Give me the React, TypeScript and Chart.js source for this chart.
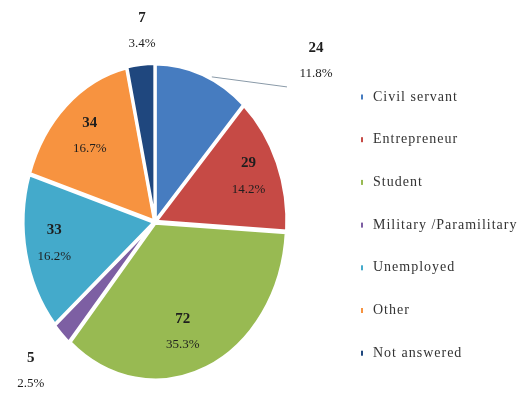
import React, { useEffect, useRef } from "react";
import { Chart, registerables } from "chart.js";

Chart.register(...registerables);

const categories = [
  "Civil servant",
  "Entrepreneur",
  "Student",
  "Military /Paramilitary",
  "Unemployed",
  "Other",
  "Not answered",
];
const counts = [24, 29, 72, 5, 33, 34, 7];
const colors = ["#467CC0", "#C64A45", "#98BA52", "#7D5FA3", "#44AACB", "#F79340", "#1F477E"];

// label placement (fraction of radius, angular shift in degrees)
const labelRadius = [1.6, 0.77, 0.73, 1.34, 0.78, 0.74, 1.22];
const labelShift = [29, 0, 6, 0, 1.5, 0, 1.5];

const SY = 1.2;
const SERIF = '"Liberation Serif", "Times New Roman", serif';

const stretchPlugin = {
  id: "stretch",
  beforeDatasetsDraw(chart: any) {
    const { ctx, chartArea } = chart;
    const cx = (chartArea.left + chartArea.right) / 2;
    const cy = (chartArea.top + chartArea.bottom) / 2;
    ctx.save();
    ctx.translate(cx, cy);
    ctx.scale(1, SY);
    ctx.translate(-cx, -cy);
  },
  afterDatasetsDraw(chart: any) {
    chart.ctx.restore();
  },
};

const labelPlugin = {
  id: "sliceLabels",
  afterDraw(chart: any) {
    const { ctx } = chart;
    const meta = chart.getDatasetMeta(0);
    const total = counts.reduce((a, b) => a + b, 0);
    meta.data.forEach((arc: any, i: number) => {
      const mid = (arc.startAngle + arc.endAngle) / 2 + (labelShift[i] * Math.PI) / 180;
      const r = arc.outerRadius * labelRadius[i];
      const x = arc.x + Math.cos(mid) * r;
      const y = arc.y + Math.sin(mid) * r * SY;
      if (i === 0) {
        const m0 = (arc.startAngle + arc.endAngle) / 2 + (4 * Math.PI) / 180;
        const ex = arc.x + Math.cos(m0) * arc.outerRadius * 1.02;
        const ey = arc.y + Math.sin(m0) * arc.outerRadius * 1.02 * SY;
        ctx.save();
        ctx.strokeStyle = "#8a9aa8";
        ctx.lineWidth = 1;
        ctx.beginPath();
        ctx.moveTo(ex, ey);
        ctx.lineTo(x - 29, y + 26);
        ctx.stroke();
        ctx.restore();
      }
      ctx.save();
      ctx.fillStyle = "#1e1e1e";
      ctx.textAlign = "center";
      ctx.textBaseline = "middle";
      ctx.font = `bold 15px ${SERIF}`;
      ctx.fillText(String(counts[i]), x, y - 13);
      ctx.font = `13px ${SERIF}`;
      ctx.fillText(((counts[i] / total) * 100).toFixed(1) + "%", x, y + 13);
      ctx.restore();
    });
  },
};

const legendPlugin = {
  id: "sideLegend",
  afterDraw(chart: any) {
    const { ctx } = chart;
    const x0 = 361;
    const y0 = 97;
    const step = 42.7;
    ctx.save();
    categories.forEach((c, i) => {
      const y = y0 + i * step;
      ctx.fillStyle = colors[i];
      ctx.fillRect(x0, y - 2.5, 2, 5);
      ctx.fillStyle = "#333";
      ctx.font = `14px ${SERIF}`;
      (ctx as any).letterSpacing = "1px";
      ctx.textAlign = "left";
      ctx.textBaseline = "middle";
      ctx.fillText(c, x0 + 12, y);
    });
    ctx.restore();
  },
};

export default function App() {
  const ref = useRef<HTMLCanvasElement | null>(null);
  useEffect(() => {
    if (!ref.current) return;
    const chart = new Chart(ref.current, {
      type: "pie",
      data: {
        labels: categories,
        datasets: [
          {
            data: counts,
            backgroundColor: colors,
            borderColor: "#ffffff",
            borderWidth: 3,
            offset: 3,
          },
        ],
      },
      options: {
        responsive: false,
        animation: false,
        radius: 131,
        layout: { padding: { left: 22, right: 238, top: 89, bottom: 45 } },
        plugins: {
          legend: { display: false },
          tooltip: { enabled: false },
        },
      } as any,
      plugins: [stretchPlugin, labelPlugin, legendPlugin],
    });
    return () => chart.destroy();
  }, []);
  return (
    <div style={{ position: "absolute", left: 0, top: 0, width: 526, height: 400, background: "#fff" }}>
      <canvas ref={ref} width={526} height={400} style={{ display: "block" }} />
    </div>
  );
}
